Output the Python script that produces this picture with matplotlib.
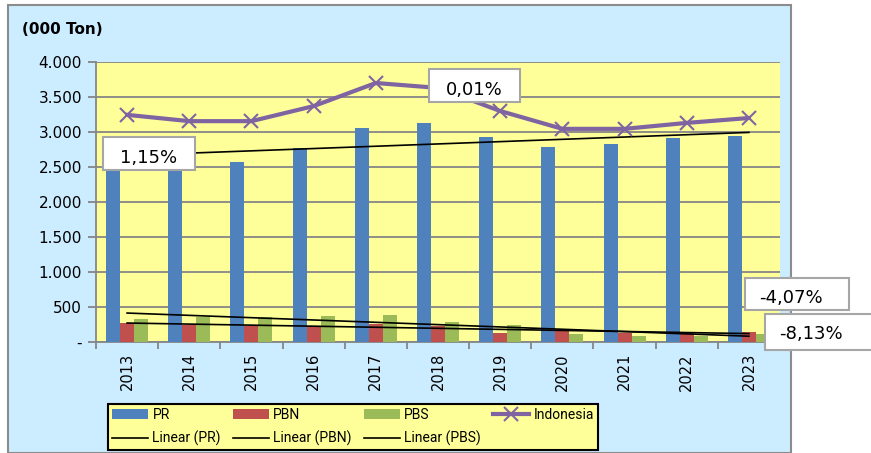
import numpy as np
import matplotlib.pyplot as plt
from matplotlib.patches import Rectangle
from matplotlib.ticker import FuncFormatter

years = ['2013', '2014', '2015', '2016', '2017', '2018', '2019', '2020', '2021', '2022', '2023']
pr = [2650, 2550, 2570, 2770, 3055, 3125, 2930, 2785, 2830, 2915, 2945]
pbn = [270, 245, 230, 230, 255, 230, 130, 155, 130, 130, 145]
pbs = [330, 360, 355, 370, 385, 285, 245, 115, 85, 90, 110]
indonesia = [3245, 3155, 3155, 3370, 3700, 3630, 3300, 3045, 3045, 3130, 3200]
growth_labels = ['1,15%', '0,01%', '-4,07%', '-8,13%']

W, H = 871, 453
fig = plt.figure(figsize=(W / 100, H / 100), dpi=100)
fig.patch.set_facecolor('white')

# light blue chart area
fig.patches.append(Rectangle((8 / W, 0), (791 - 8) / W, (453 - 5) / H, transform=fig.transFigure,
                             facecolor='#CCECFF', edgecolor='#8C8C8C', linewidth=1.5, zorder=-5))

ax = fig.add_axes([96 / W, (H - 342) / H, (780 - 96) / W, (342 - 62) / H])
ax.set_zorder(1)
ax.set_facecolor('#FFFF99')

x = np.arange(len(years))
bw = 0.225
b1 = ax.bar(x - bw, pr, bw, color='#4F81BD', label='PR', zorder=3)
b2 = ax.bar(x, pbn, bw, color='#C0504D', label='PBN', zorder=3)
b3 = ax.bar(x + bw, pbs, bw, color='#9BBB59', label='PBS', zorder=3)

trends = []
for vals, name in [(pr, 'PR'), (pbn, 'PBN'), (pbs, 'PBS')]:
    k, c = np.polyfit(x, vals, 1)
    ln, = ax.plot(x, k * x + c, color='black', lw=1.2, zorder=4, label=f'Linear ({name})')
    trends.append(ln)

ind, = ax.plot(x, indonesia, color='#8064A2', lw=3, marker='x', markersize=10,
               markeredgewidth=1.5, zorder=5, label='Indonesia')

ax.set_xlim(-0.5, len(years) - 0.5)
ax.set_ylim(0, 4000)
ax.set_yticks(np.arange(0, 4001, 500))
ax.yaxis.set_major_formatter(FuncFormatter(lambda v, p: '-' if v == 0 else f'{int(v):,}'.replace(',', '.')))
ax.grid(axis='y', color='#868686', lw=1.3, zorder=1)
ax.set_axisbelow(True)

ax.set_xticks(x)
ax.set_xticklabels(years, rotation=90, fontsize=10.5)
ax.set_xticks(np.arange(-0.5, len(years), 1), minor=True)
ax.tick_params(axis='x', which='major', length=0, pad=8)
ax.tick_params(axis='x', which='minor', length=5, color='#868686', width=1.3)
ax.tick_params(axis='y', length=6, color='#868686', width=1.3, labelsize=11, pad=4)

for s in ['top', 'right']:
    ax.spines[s].set_visible(False)
for s in ['left', 'bottom']:
    ax.spines[s].set_color('#868686')
    ax.spines[s].set_linewidth(1.3)

fig.text(22 / W, 1 - 30 / H, '(000 Ton)', fontsize=11, fontweight='bold', va='center', ha='left')

# growth label boxes
boxes = [(103, 137, 195, 170), (429, 69, 520, 102), (745, 278, 849, 310), (765, 314, 873, 350)]
text_pos = [(149, 158), (474, 90), (791, 298), (811, 334)]
for lbl, (x0, y0, x1, y1), (tx, ty) in zip(growth_labels, boxes, text_pos):
    fig.patches.append(Rectangle((x0 / W, 1 - y1 / H), (x1 - x0) / W, (y1 - y0) / H,
                                 transform=fig.transFigure, facecolor='white',
                                 edgecolor='#A6A6A6', linewidth=1.5, zorder=10))
    fig.text(tx / W, 1 - ty / H, lbl, fontsize=13, ha='center', va='center', zorder=11)

handles = [b1, trends[0], b2, trends[1], b3, trends[2], ind]
leg = fig.legend(handles=handles, labels=[h.get_label() for h in handles], ncol=4,
                 loc='upper left', bbox_to_anchor=(108 / W, 2 / H, 490 / W, 47 / H),
                 mode='expand', prop={'family': 'Roboto', 'size': 10},
                 frameon=True, fancybox=False,
                 handlelength=2.6, handletextpad=0.3, borderpad=0.3, labelspacing=0.6,
                 borderaxespad=0)
leg.set_zorder(12)
leg.get_frame().set_facecolor('#FFFF99')
leg.get_frame().set_edgecolor('black')
leg.get_frame().set_linewidth(1.5)
leg.get_frame().set_alpha(1)

fig.savefig('out.png', dpi=100)
